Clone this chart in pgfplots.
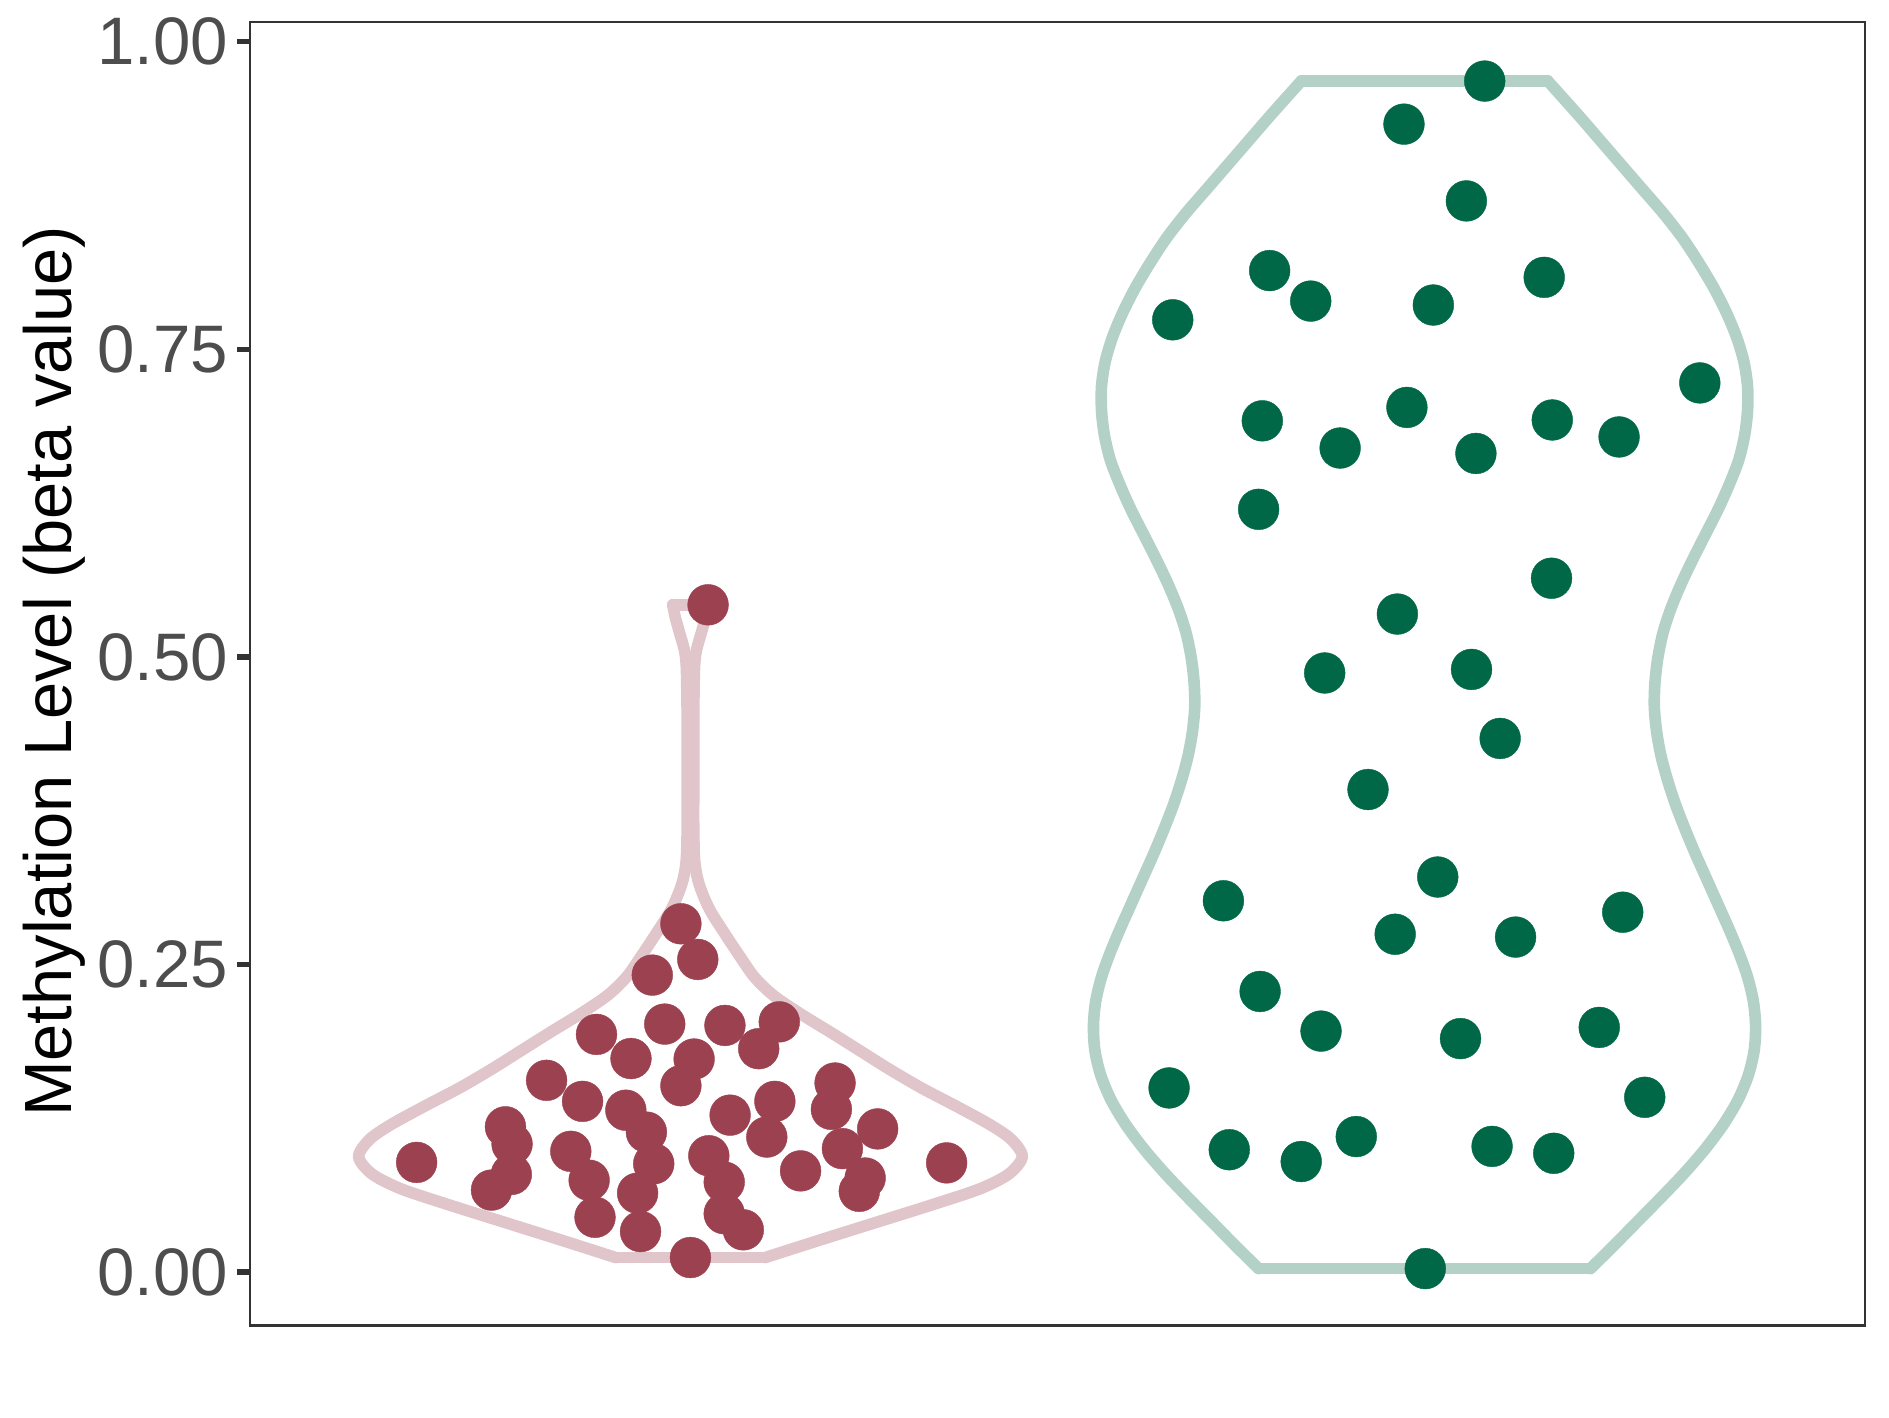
\documentclass[border=0pt]{standalone}
\usepackage{pgfplots}
\usepackage{pgfplotstable}
\pgfplotsset{compat=1.18}
\usepackage{fontspec}
\setmainfont{Liberation Sans}
\definecolor{reddot}{RGB}{155,65,80}
\definecolor{redline}{RGB}{224,197,203}
\definecolor{greendot}{RGB}{0,104,70}
\definecolor{greenline}{RGB}{179,209,199}
\definecolor{c33}{RGB}{51,51,51}
\definecolor{c4d}{RGB}{77,77,77}

\pgfplotstableread{
y hw
0.012 0.102
0.025 0.170
0.040 0.250
0.055 0.330
0.068 0.395
0.080 0.434
0.094 0.452
0.108 0.437
0.120 0.408
0.135 0.362
0.150 0.314
0.165 0.271
0.180 0.231
0.195 0.191
0.210 0.150
0.225 0.113
0.240 0.087
0.257 0.067
0.275 0.047
0.295 0.026
0.315 0.012
0.333 0.006
0.36 0.0045
0.40 0.0045
0.45 0.0045
0.49 0.0055
0.505 0.008
0.52 0.015
0.533 0.021
0.5424 0.024
}\redviolin

\pgfplotstableread{
y hw
0.003 0.226
0.02 0.255
0.04 0.288
0.06 0.321
0.08 0.353
0.10 0.382
0.12 0.407
0.14 0.427
0.16 0.441
0.18 0.449
0.20 0.451
0.22 0.448
0.24 0.440
0.26 0.428
0.28 0.414
0.30 0.399
0.32 0.384
0.34 0.369
0.36 0.355
0.38 0.342
0.40 0.331
0.42 0.322
0.44 0.316
0.46 0.313
0.48 0.314
0.50 0.318
0.52 0.325
0.54 0.336
0.56 0.350
0.58 0.366
0.60 0.383
0.62 0.400
0.64 0.415
0.66 0.428
0.68 0.436
0.70 0.440
0.72 0.440
0.74 0.435
0.76 0.425
0.78 0.411
0.80 0.394
0.82 0.374
0.84 0.352
0.86 0.326
0.88 0.297
0.90 0.268
0.92 0.239
0.94 0.210
0.968 0.168
}\greenviolin

\pgfplotstableread{
x y
1.024 0.5424
0.987 0.2832
1.010 0.2542
0.948 0.2415
0.965 0.2017
1.047 0.2006
1.121 0.2035
0.872 0.1933
0.919 0.1737
1.005 0.1733
1.093 0.1817
0.804 0.1560
0.987 0.1516
1.197 0.1538
0.853 0.1389
0.912 0.1317
1.115 0.1389
1.054 0.1277
1.192 0.1324
0.748 0.1182
0.940 0.1139
0.757 0.1042
1.104 0.1099
1.255 0.1165
0.837 0.0983
1.207 0.1005
1.025 0.0947
0.627 0.0893
0.950 0.0882
1.349 0.0889
1.150 0.0824
0.756 0.0795
0.862 0.0748
1.046 0.0733
1.238 0.0766
0.729 0.0668
0.928 0.0643
1.230 0.0658
1.046 0.0476
0.870 0.0447
1.072 0.0345
0.932 0.0331
1.000 0.0120
}\redpts

\pgfplotstableread{
x y
2.082 0.968
1.972 0.933
2.057 0.8706
1.789 0.8140
2.163 0.8085
1.845 0.7892
2.012 0.7860
1.657 0.7740
2.375 0.7227
1.976 0.7028
1.779 0.6919
2.174 0.6926
2.265 0.6788
1.885 0.6698
2.070 0.6654
1.774 0.6200
2.173 0.5640
1.963 0.5349
1.864 0.4870
2.064 0.4899
2.103 0.4338
1.923 0.3923
2.018 0.3212
1.726 0.3019
2.270 0.2926
1.960 0.2747
2.124 0.2724
1.776 0.2282
1.859 0.1960
2.049 0.1899
2.238 0.1990
1.652 0.1498
2.300 0.1422
1.734 0.0996
1.907 0.1103
1.832 0.0900
2.092 0.1023
2.176 0.0967
2.001 0.0030
}\greenpts

\begin{document}
\begin{tikzpicture}
\useasboundingbox (-62.5pt,-22.825pt) rectangle (409.75pt,331.425pt);
\begin{axis}[
  at={(0,0)}, anchor=south west,
  scale only axis, width=403.75pt, height=325.925pt,
  xmin=0.4, xmax=2.6, ymin=-0.0434, ymax=1.016,
  xtick=\empty,
  ytick={0,0.25,0.5,0.75,1},
  ytick pos=left,
  /pgf/number format/assume math mode=true,
  yticklabel style={/pgf/number format/fixed, /pgf/number format/fixed zerofill, /pgf/number format/precision=2,
    font=\fontsize{16.8}{19}\selectfont, text=c4d, inner sep=0pt, anchor=east, xshift=-2.1pt},
  tick align=outside, major tick length=3.2pt,
  tick style={color=c33, line width=1.4pt},
  axis line style={color=c33, line width=0.7pt},
  ylabel={Methylation Level (beta value)},
  ylabel style={font=\fontsize{16.7}{20}\selectfont, at={(axis description cs:-0.1104,0.502)}, anchor=base},
]
% red violin
\addplot[redline, line width=2.9pt, line cap=round, line join=round, smooth] table[x expr=1+\thisrow{hw}, y=y] {\redviolin};
\addplot[redline, line width=2.9pt, line cap=round, line join=round, smooth] table[x expr=1-\thisrow{hw}, y=y] {\redviolin};
\addplot[redline, line width=2.9pt, line cap=round] coordinates {(0.898,0.012) (1.102,0.012)};
\addplot[redline, line width=2.9pt, line cap=round] coordinates {(0.976,0.5424) (1.024,0.5424)};
% green violin
\addplot[greenline, line width=2.9pt, line cap=round, line join=round, smooth] table[x expr=2+\thisrow{hw}, y=y] {\greenviolin};
\addplot[greenline, line width=2.9pt, line cap=round, line join=round, smooth] table[x expr=2-\thisrow{hw}, y=y] {\greenviolin};
\addplot[greenline, line width=2.9pt, line cap=round] coordinates {(1.774,0.003) (2.226,0.003)};
\addplot[greenline, line width=2.9pt, line cap=round] coordinates {(1.832,0.968) (2.168,0.968)};
% points
\addplot[only marks, mark=*, mark size=5.1pt, mark options={fill=reddot, draw=reddot, line width=0.1pt}] table[x=x, y=y] {\redpts};
\addplot[only marks, mark=*, mark size=5.1pt, mark options={fill=greendot, draw=greendot, line width=0.1pt}] table[x=x, y=y] {\greenpts};
\end{axis}
\end{tikzpicture}
\end{document}
